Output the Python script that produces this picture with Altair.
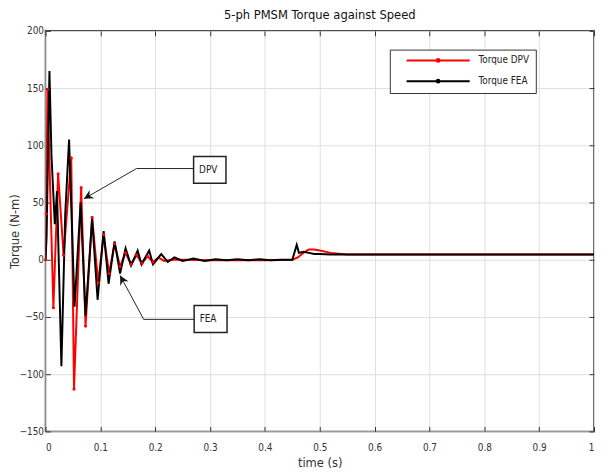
import altair as alt
import pandas as pd

# ---------------- data ----------------
# Torque DPV (red)
t_dpv = [0, 0.0015, 0.0036, 0.0144, 0.023, 0.033, 0.047, 0.052, 0.065, 0.073,
         0.085, 0.096, 0.106, 0.116, 0.126, 0.136, 0.146, 0.156, 0.166, 0.176,
         0.186, 0.196, 0.206, 0.216, 0.23, 0.25, 0.30, 0.35, 0.40, 0.45,
         0.46, 0.47, 0.48, 0.49, 0.50, 0.52, 0.55, 0.60, 0.70, 0.80, 0.90, 1.0]
tq_dpv = [0, 40, 149, -42, 75, 4, 89, -113, 63, -58,
          37, -20, 22, -12, 14, -6, 6, -4, 4, -3,
          3, -2, 2, -1, 0, 0, -0.5, -0.5, -0.5, 0,
          2, 6, 9, 9, 8, 6, 4.5, 4.5, 4.5, 4.5, 4.5, 4.5]

# Torque FEA (black)
t_fea = [0, 0.002, 0.0072, 0.011, 0.017, 0.021, 0.029, 0.036, 0.043, 0.053,
         0.064, 0.073, 0.085, 0.095, 0.106, 0.115, 0.126, 0.136, 0.146, 0.156,
         0.168, 0.175, 0.189, 0.196, 0.211, 0.223, 0.235, 0.25, 0.27, 0.29,
         0.31, 0.33, 0.35, 0.37, 0.39, 0.41, 0.43, 0.45, 0.458, 0.462,
         0.47, 0.48, 0.49, 0.50, 0.52, 0.54, 0.60, 0.70, 0.80, 0.90, 1.0]
tq_fea = [0, 20, 165, 90, 31, 60, -93, 40, 105, -41,
          50, -49, 36, -35, 25, -21, 16, -12, 10, -5,
          8, -4, 8, -4, 5, -2, 2, -1, 1, -1,
          0.5, -0.5, 0.5, -0.5, 0.5, -0.5, 0, 0, 13, 6,
          7, 6, 5, 5, 4.5, 4.5, 4.5, 4.5, 4.5, 4.5, 4.5]

series_names = ["Torque DPV", "Torque FEA"]
series_colors = ["#ff0000", "#000000"]

x_ticks = [0, 0.1, 0.2, 0.3, 0.4, 0.5, 0.6, 0.7, 0.8, 0.9, 1]
y_ticks = [-150, -100, -50, 0, 50, 100, 150, 200]

# annotation boxes and leader lines (data units)
ann_labels = ["DPV", "FEA"]
ann_box_t = [0.270, 0.271]
ann_box_t2 = [0.329, 0.331]
ann_box_y = [90.3, -39.9]
ann_box_y2 = [66.9, -63.5]
ann_text_t = [0.280, 0.281]
ann_text_y = [78.6, -51.7]
leader_t = [[0.270, 0.166, 0.070], [0.271, 0.179, 0.136]]
leader_y = [[79.7, 79.7, 53.2], [-52.1, -52.1, -13.7]]
arrow_angle = [240, 332]
marker_t_max = 0.2   # red markers visible on the oscillating part

# ---------------- tables ----------------
df = pd.concat([
    pd.DataFrame({"t": t_dpv, "torque": tq_dpv, "series": series_names[0]}),
    pd.DataFrame({"t": t_fea, "torque": tq_fea, "series": series_names[1]}),
], ignore_index=True)

boxes = pd.DataFrame({"label": ann_labels, "t1": ann_box_t, "t2": ann_box_t2,
                      "y1": ann_box_y, "y2": ann_box_y2,
                      "tt": ann_text_t, "ty": ann_text_y})
lead_rows = []
for lab, ts, ys in zip(ann_labels, leader_t, leader_y):
    for i, (tv, yv) in enumerate(zip(ts, ys)):
        lead_rows.append({"label": lab, "i": i, "t": tv, "y": yv})
leaders = pd.DataFrame(lead_rows)
heads = pd.DataFrame({"label": ann_labels,
                      "t": [ts[-1] for ts in leader_t],
                      "y": [ys[-1] for ys in leader_y],
                      "angle": arrow_angle})

FONT = "Liberation Sans Narrow, DejaVu Sans Condensed, Arial Narrow, sans-serif"
xs = alt.Scale(domain=[0, 1], nice=False, zero=False)
ys_ = alt.Scale(domain=[-150, 200], nice=False, zero=False)

x_main = alt.Axis(orient="bottom", values=x_ticks, format="~g", offset=-5,
                  tickSize=5, tickColor="#333", labelPadding=11, domain=False,
                  grid=True, gridColor="#dedede", labelFont=FONT, labelFontSize=10,
                  labelColor="#333", title="time (s)", titleFont=FONT,
                  titleFontSize=13, titleFontWeight="normal", titleColor="#333",
                  titlePadding=5)
y_main = alt.Axis(orient="left", values=y_ticks, offset=-5, tickSize=5,
                  tickColor="#333", labelPadding=2, domain=False, grid=True,
                  gridColor="#dedede", labelFont=FONT, labelFontSize=10,
                  labelColor="#333", title="Torque (N-m)", titleFont=FONT,
                  titleFontSize=13, titleFontWeight="normal", titleColor="#333",
                  titleAngle=270, titleX=-32, titleY=203, titleAlign="center",
                  titleBaseline="alphabetic")
x_top = alt.Axis(orient="top", values=x_ticks, offset=-5, tickSize=5,
                 tickColor="#333", labels=False, domain=False, grid=False, title=None)
y_right = alt.Axis(orient="right", values=y_ticks, offset=-5, tickSize=5,
                   tickColor="#333", labels=False, domain=False, grid=False, title=None)

LEG_SYM = "M-8,0H8M0.35,0A0.35,0.35,0,1,1,-0.35,0A0.35,0.35,0,1,1,0.35,0"
LABEL_PAD = "\u00a0" * 7

lines = alt.Chart(df).mark_line(strokeWidth=2, clip=True).encode(
    x=alt.X("t:Q", scale=xs, axis=x_main),
    y=alt.Y("torque:Q", scale=ys_, axis=y_main),
    color=alt.Color("series:N",
                    scale=alt.Scale(domain=series_names, range=series_colors),
                    legend=alt.Legend(title=None, orient="none", legendX=349,
                                      legendY=19, symbolType=LEG_SYM,
                                      symbolSize=64, symbolStrokeWidth=2,
                                      labelFont=FONT, labelFontSize=10,
                                      labelColor="#222", strokeColor="#333",
                                      fillColor="white", padding=6,
                                      rowPadding=9, symbolOffset=38,
                                      labelOffset=36,
                                      labelExpr="datum.label + '" + LABEL_PAD + "'")),
    order="t:Q",
)

dots = alt.Chart(df).transform_filter(
    (alt.datum.series == series_names[0]) & (alt.datum.t <= marker_t_max)
).mark_point(filled=True, size=10, color="#ff0000", opacity=1).encode(
    x=alt.X("t:Q", scale=xs, axis=None),
    y=alt.Y("torque:Q", scale=ys_, axis=None),
)

rects = alt.Chart(boxes).mark_rect(fill="white", stroke="#222",
                                   strokeWidth=1.5).encode(
    x=alt.X("t1:Q", scale=xs, axis=x_top),
    x2="t2:Q",
    y=alt.Y("y1:Q", scale=ys_, axis=y_right),
    y2="y2:Q",
)

texts = alt.Chart(boxes).mark_text(align="left", baseline="middle", font=FONT,
                                   fontSize=10, color="#222").encode(
    x=alt.X("tt:Q", scale=xs, axis=None),
    y=alt.Y("ty:Q", scale=ys_, axis=None),
    text="label:N",
)

leader_lines = alt.Chart(leaders).mark_line(color="#222", strokeWidth=1).encode(
    x=alt.X("t:Q", scale=xs, axis=None),
    y=alt.Y("y:Q", scale=ys_, axis=None),
    detail="label:N",
    order="i:Q",
)

arrow_heads = alt.Chart(heads).mark_point(
    shape="M0,0L0.55,1.1L0,0.75L-0.55,1.1Z", filled=True, color="#111",
    size=300, opacity=1
).encode(
    x=alt.X("t:Q", scale=xs, axis=None),
    y=alt.Y("y:Q", scale=ys_, axis=None),
    angle=alt.Angle("angle:Q", scale=None),
)

chart = alt.layer(lines, dots, leader_lines, arrow_heads, rects, texts).resolve_axis(
    x="independent", y="independent"
).properties(
    width=556, height=406,
    title=alt.TitleParams("5-ph PMSM Torque against Speed", font=FONT,
                          fontSize=13, fontWeight="normal", color="#111",
                          offset=4, anchor="middle"),
    autosize=alt.AutoSizeParams(type="none"),
    padding={"left": 38, "top": 20, "right": 2, "bottom": 40},
).configure_view(stroke="#333", strokeWidth=1.5)

chart.save("out.html", embed_options={"renderer": "svg", "actions": False})
